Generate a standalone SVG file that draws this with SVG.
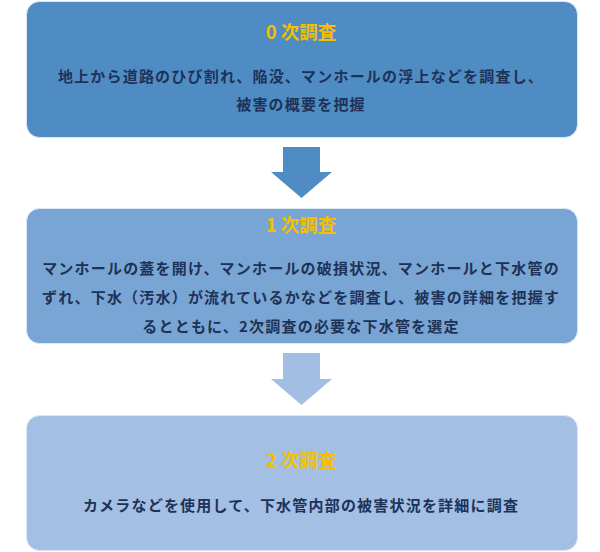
<svg xmlns="http://www.w3.org/2000/svg" width="600" height="552" viewBox="0 0 600 552">
<style>
.box{stroke:#dce7f3;stroke-width:1}
.title{font-family:"Noto Sans CJK JP","Noto Sans",sans-serif;font-weight:bold;font-size:18.5px;fill:#f5bf00;text-anchor:middle}
.body{font-family:"Noto Sans CJK JP","Noto Sans",sans-serif;font-weight:bold;font-size:15px;fill:#1e3257;text-anchor:middle;letter-spacing:1.2px}
</style>
<rect width="600" height="552" fill="#ffffff"/>
<g id="connectors">
<polygon points="283,147 320,147 320,172 332,172 301.5,198 271,172 283,172" fill="#4f8cc4"/>
<polygon points="283,353 320,353 320,379 332,379 301.5,405 271,379 283,379" fill="#a2bee2"/>
</g>
<g id="node0">
<rect class="box" x="26.5" y="1.5" width="551" height="136" rx="13" fill="#4f8cc4"/>
<text class="title" x="301" y="39">0 次調査</text>
<text class="body" x="301" y="82">地上から道路のひび割れ、陥没、マンホールの浮上などを調査し、</text>
<text class="body" x="301" y="110">被害の概要を把握</text>
</g>
<g id="node1">
<rect class="box" x="26.5" y="208.5" width="551" height="135" rx="13" fill="#79a5d4"/>
<text class="title" x="301" y="232">1 次調査</text>
<text class="body" x="301" y="274">マンホールの蓋を開け、マンホールの破損状況、マンホールと下水管の</text>
<text class="body" x="301" y="303">ずれ、下水（汚水）が流れているかなどを調査し、被害の詳細を把握す</text>
<text class="body" x="301" y="332">るとともに、2次調査の必要な下水管を選定</text>
</g>
<g id="node2">
<rect class="box" x="26.5" y="415.5" width="551" height="135" rx="13" fill="#a3bfe3"/>
<text class="title" x="301" y="467">2 次調査</text>
<text class="body" x="301" y="511">カメラなどを使用して、下水管内部の被害状況を詳細に調査</text>
</g>
</svg>
